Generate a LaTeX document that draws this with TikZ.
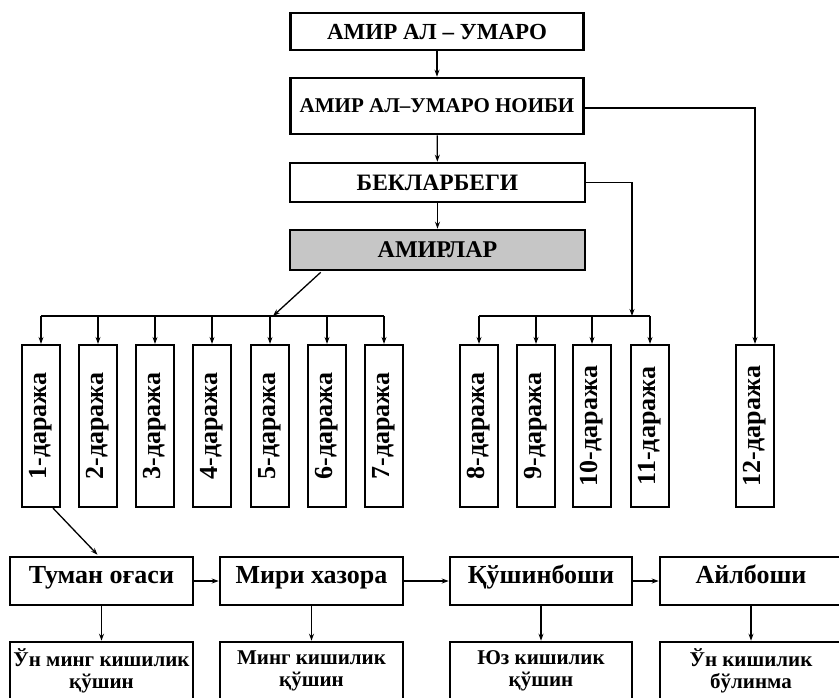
\documentclass[tikz,border=0pt]{standalone}
\usepackage{fontspec}
\setmainfont{Liberation Serif}
\usetikzlibrary{arrows.meta,calc}
\begin{document}
\begin{tikzpicture}[x=1pt,y=-1pt,
  box/.style={draw, line width=2.6pt, inner sep=0pt, align=center, font=\bfseries\fontsize{20}{22}\selectfont},
  topbox/.style={box, minimum width=293pt},
  dbox/.style={draw, line width=2.2pt, inner sep=0pt, minimum width=38pt, minimum height=162pt},
  dtext/.style={rotate=90, inner sep=0pt, font=\bfseries\fontsize{26}{28}\selectfont},
  rowbox/.style={box, minimum height=48pt, text height=0.7em, text depth=0.2em, font=\bfseries\fontsize{26}{28}\selectfont},
  lowbox/.style={box, minimum height=58pt, font=\bfseries\fontsize{21}{22}\selectfont},
  conn/.style={line width=1.3pt, -{Stealth[length=7pt,width=5pt]}},
  line/.style={line width=1.3pt}]
\useasboundingbox (0,0) rectangle (839,697);

% top chain
\node[topbox, minimum height=37pt, font=\bfseries\fontsize{23}{24}\selectfont] (b1) at (437,31.5) {АМИР АЛ – УМАРО};
\node[topbox, minimum height=56pt, font=\bfseries\fontsize{21}{24}\selectfont] (b2) at (437,106) {АМИР АЛ–УМАРО НОИБИ};
\node[topbox, minimum height=39pt, minimum width=295pt, font=\bfseries\fontsize{23.5}{24}\selectfont] (b3) at (437.5,182.5) {БЕКЛАРБЕГИ};
\node[topbox, minimum height=40pt, minimum width=295pt, fill=gray!45, font=\bfseries\fontsize{24}{24}\selectfont] (b4) at (437.5,250) {АМИРЛАР};

\draw[conn] (b1) -- (b2);
\draw[conn] (b2) -- (b3);
\draw[conn] (b3) -- (b4);

% daraja boxes
\foreach \i/\x in {1/41,2/98,3/155,4/212,5/270,6/327,7/384,8/479,9/536,10/592,11/650,12/755}{
  \node[dbox, label={[dtext]center:\i-даража}] (d\i) at (\x,426) {};
}

% buses
\coordinate (busL) at (41,316);
\coordinate (busR) at (384,316);
\coordinate (busA) at (273,316);
\draw[line] (busL) -- (busR);
\foreach \i in {1,...,7}{ \draw[conn] (d\i.north |- busL) -- (d\i.north); }
\draw[conn] ($(b4.south west)+(32,1)$) -- (busA);

\coordinate (bus2L) at (479,316);
\coordinate (bus2R) at (650,316);
\coordinate (bus2A) at (632,316);
\draw[line] (bus2L) -- (bus2R);
\foreach \i in {8,...,11}{ \draw[conn] (d\i.north |- bus2L) -- (d\i.north); }
\coordinate (k3) at (632,182.5);
\draw[conn] (b3.east) -- (k3) -- (bus2A);

\coordinate (k2) at (755,108);
\draw[conn] (b2.east |- k2) -- (k2) -- (d12.north);

% bottom row
\node[rowbox, minimum width=183pt] (r1) at (101.5,581) {Туман оғаси};
\node[rowbox, minimum width=183pt] (r2) at (311.5,581) {Мири хазора};
\node[rowbox, minimum width=182pt] (r3) at (541,581) {Қўшинбоши};
\node[rowbox, minimum width=182pt] (r4) at (751,581) {Айлбоши};

\draw[conn] ($(d1.south)+(12,0)$) -- ($(r1.north)+(-4,-1)$);
\draw[conn] (r1) -- (r2);
\draw[conn] (r2) -- (r3);
\draw[conn] (r3) -- (r4);

\node[lowbox, minimum width=183pt] (l1) at (101.5,671) {Ўн минг кишилик\\қўшин};
\node[lowbox, minimum width=183pt] (l2) at (311.5,671) {Минг кишилик\\қўшин};
\node[lowbox, minimum width=182pt] (l3) at (541,671) {Юз кишилик\\қўшин};
\node[lowbox, minimum width=182pt] (l4) at (751,671) {Ўн кишилик\\бўлинма};

\draw[conn] (r1) -- (l1);
\draw[conn] (r2) -- (l2);
\draw[conn] (r3) -- (l3);
\draw[conn] (r4) -- (l4);
\end{tikzpicture}
\end{document}
